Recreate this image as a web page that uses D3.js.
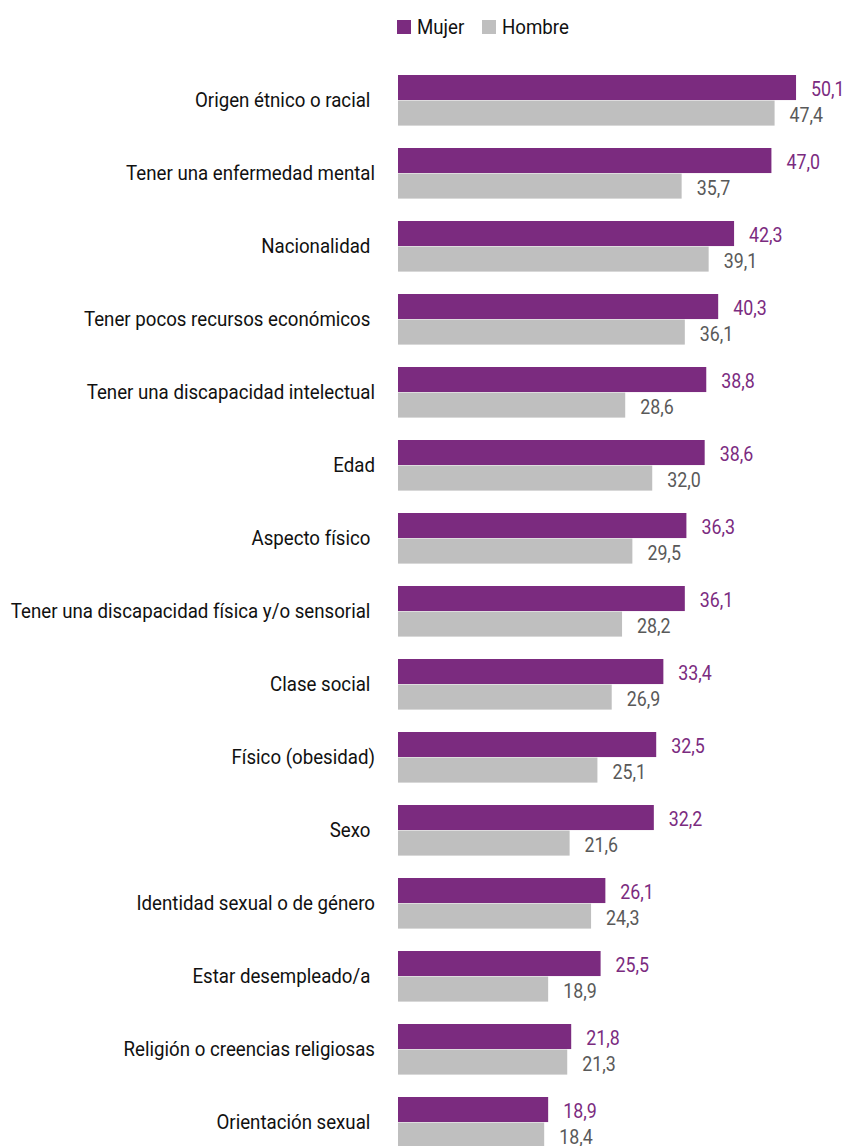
<!DOCTYPE html>
<html>
<head>
<meta charset="utf-8">
<script src="https://cdn.jsdelivr.net/npm/d3@7"></script>
<style>
  body { margin: 0; background: #fff; }
  text { font-family: "Roboto", "Liberation Sans", sans-serif; }
</style>
</head>
<body>
<div id="chart"></div>
<script>
var svgWidth = 848;
var svgHeight = 1146;

// data
var categories = [
  "Origen étnico o racial ",
  "Tener una enfermedad mental",
  "Nacionalidad ",
  "Tener pocos recursos económicos ",
  "Tener una discapacidad intelectual",
  "Edad",
  "Aspecto físico ",
  "Tener una discapacidad física y/o sensorial ",
  "Clase social ",
  "Físico (obesidad)",
  "Sexo ",
  "Identidad sexual o de género",
  "Estar desempleado/a ",
  "Religión o creencias religiosas",
  "Orientación sexual "
];
var mujer = [50.1, 47.0, 42.3, 40.3, 38.8, 38.6, 36.3, 36.1, 33.4, 32.5, 32.2, 26.1, 25.5, 21.8, 18.9];
var hombre = [47.4, 35.7, 39.1, 36.1, 28.6, 32.0, 29.5, 28.2, 26.9, 25.1, 21.6, 24.3, 18.9, 21.3, 18.4];
var seriesNames = ["Mujer", "Hombre"];
var colors = { Mujer: "#7b2b7f", Hombre: "#bfbfbf" };
var labelColors = { Mujer: "#7b2b7f", Hombre: "#595959" };

// the original uses a narrow typeface, squeeze Roboto to get close
var squeeze = 0.89;

var svg = d3.select("#chart")
  .append("svg")
  .attr("width", svgWidth)
  .attr("height", svgHeight);

var xScale = d3.scaleLinear()
  .domain([0, 60])
  .range([398, 398 + 60 * 7.945]);

var step = 73;
var yScale = d3.scaleBand()
  .domain(categories)
  .range([75 - 0.15 * step, 75 - 0.15 * step + categories.length * step])
  .paddingInner(0.3)
  .paddingOuter(0.15);

var ySub = d3.scaleBand()
  .domain(seriesNames)
  .range([0, yScale.bandwidth()]);

var rows = categories.map((c, i) => ({ cat: c, Mujer: mujer[i], Hombre: hombre[i] }));

var rowGroups = svg.selectAll(".row")
  .data(rows)
  .enter()
  .append("g")
  .attr("class", "row")
  .attr("transform", d => `translate(0,${yScale(d.cat)})`);

// category labels
rowGroups.append("text")
  .attr("transform", `translate(375,${yScale.bandwidth() / 2 + 1}) scale(${squeeze},1)`)
  .attr("text-anchor", "end")
  .attr("dominant-baseline", "middle")
  .attr("font-size", "21px")
  .attr("fill", "#111")
  .style("white-space", "pre")
  .text(d => d.cat);

seriesNames.forEach(s => {
  rowGroups.append("rect")
    .attr("x", xScale(0))
    .attr("y", ySub(s))
    .attr("width", d => xScale(d[s]) - xScale(0))
    .attr("height", ySub.bandwidth() - 0.5)
    .attr("fill", colors[s]);

  rowGroups.append("text")
    .attr("transform", d => `translate(${xScale(d[s]) + 15},${ySub(s) + ySub.bandwidth() / 2 + 3}) scale(${squeeze},1)`)
    .attr("dominant-baseline", "middle")
    .attr("font-size", "20px")
    .attr("fill", labelColors[s])
    .text(d => d3.format(".1f")(d[s]).replace(".", ","));
});

// legend
var legend = svg.append("g").attr("transform", "translate(397,20)");
var legendX = [0, 85];
seriesNames.forEach((s, i) => {
  legend.append("rect")
    .attr("x", legendX[i])
    .attr("y", 0)
    .attr("width", 14)
    .attr("height", 14)
    .attr("fill", colors[s]);
  legend.append("text")
    .attr("transform", `translate(${legendX[i] + 20},8) scale(${squeeze},1)`)
    .attr("dominant-baseline", "middle")
    .attr("font-size", "21px")
    .attr("fill", "#111")
    .text(s);
});
</script>
</body>
</html>
